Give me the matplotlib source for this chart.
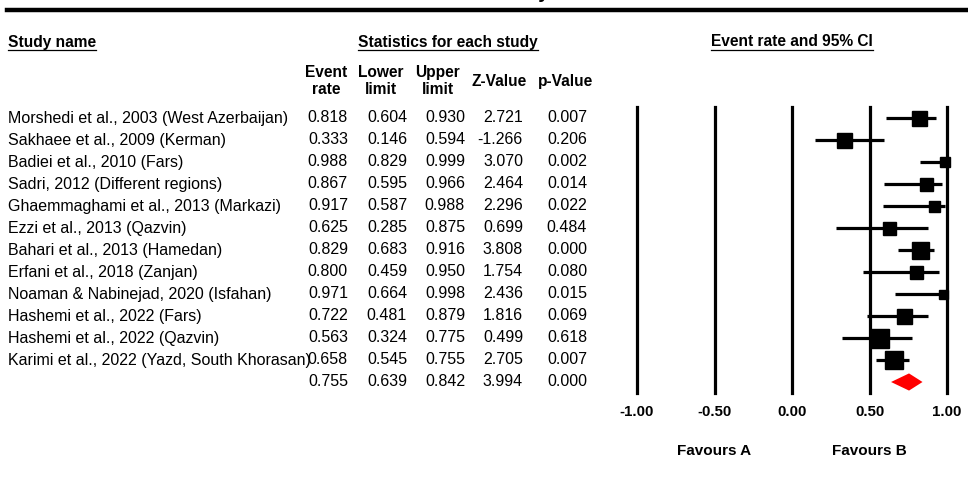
import matplotlib.pyplot as plt
from matplotlib.lines import Line2D
from matplotlib.patches import Polygon
import matplotlib.transforms as mtransforms

plt.rcParams['font.family'] = ['Liberation Sans', 'DejaVu Sans']

# study data
studies = [
    "Morshedi et al., 2003 (West Azerbaijan)",
    "Sakhaee et al., 2009 (Kerman)",
    "Badiei et al., 2010 (Fars)",
    "Sadri, 2012 (Different regions)",
    "Ghaemmaghami et al., 2013 (Markazi)",
    "Ezzi et al., 2013 (Qazvin)",
    "Bahari et al., 2013 (Hamedan)",
    "Erfani et al., 2018 (Zanjan)",
    "Noaman & Nabinejad, 2020 (Isfahan)",
    "Hashemi et al., 2022 (Fars)",
    "Hashemi et al., 2022 (Qazvin)",
    "Karimi et al., 2022 (Yazd, South Khorasan)",
]
event_rate = [0.818, 0.333, 0.988, 0.867, 0.917, 0.625, 0.829, 0.800, 0.971, 0.722, 0.563, 0.658]
lower = [0.604, 0.146, 0.829, 0.595, 0.587, 0.285, 0.683, 0.459, 0.664, 0.481, 0.324, 0.545]
upper = [0.930, 0.594, 0.999, 0.966, 0.988, 0.875, 0.916, 0.950, 0.998, 0.879, 0.775, 0.755]
z_value = [2.721, -1.266, 3.070, 2.464, 2.296, 0.699, 3.808, 1.754, 2.436, 1.816, 0.499, 2.705]
p_value = [0.007, 0.206, 0.002, 0.014, 0.022, 0.484, 0.000, 0.080, 0.015, 0.069, 0.618, 0.007]

# pooled estimate
pooled = [0.755, 0.639, 0.842, 3.994, 0.000]

# relative study weights (box side, px)
box_px = [15, 15, 10, 13, 11, 13, 17, 13, 9, 15, 19, 18]

ticks = [-1.0, -0.5, 0.0, 0.5, 1.0]

W, H = 968, 497
fig = plt.figure(figsize=(W / 100, H / 100), dpi=100)

def fx(px):
    return px / W

def fy(py):
    return 1 - py / H

# forest plot panel
ax = fig.add_axes([fx(637), fy(393), fx(947) - fx(637), fy(107) - fy(393)])
ax.set_xlim(-1, 1)
ax.set_ylim(12.5, -0.5)
for s in ax.spines.values():
    s.set_visible(False)
ax.set_yticks([])
ax.set_xticks(ticks)
ax.set_xticklabels([f"{t:.2f}" for t in ticks], fontsize=10.8, fontweight='bold')
ax.tick_params(axis='x', length=0, pad=9)

for t in ticks:
    ax.axvline(t, color='black', lw=2.3, zorder=1, clip_on=False)

rows = list(range(len(studies)))
for i in rows:
    ax.plot([lower[i], upper[i]], [i, i], color='black', lw=2.3, solid_capstyle='butt',
            zorder=2, clip_on=False)
    ax.plot(event_rate[i], i, marker='s', color='black', markersize=box_px[i] * 0.72,
            zorder=3, clip_on=False)

yp = len(studies)
h = 0.39
ax.add_patch(Polygon([(pooled[1], yp), (pooled[0], yp - h), (pooled[2], yp), (pooled[0], yp + h)],
                     closed=True, facecolor='#ff0000', edgecolor='none', zorder=4, clip_on=False))

ax.text(-0.5, 15.15, "Favours A", ha='center', va='center', fontsize=11, fontweight='bold')
ax.text(0.5, 15.15, "Favours B", ha='center', va='center', fontsize=11, fontweight='bold')

# table of statistics
trans = mtransforms.blended_transform_factory(fig.transFigure, ax.transData)
col_right = [348, 407, 465, 523, 587]
fs = 11.5
for i in rows:
    fig.text(fx(8), i, studies[i], transform=trans, ha='left', va='center', fontsize=fs)
    vals = [event_rate[i], lower[i], upper[i], z_value[i], p_value[i]]
    for x, v in zip(col_right, vals):
        fig.text(fx(x), i, f"{v:.3f}", transform=trans, ha='right', va='center', fontsize=fs)
for x, v in zip(col_right, pooled):
    fig.text(fx(x), yp, f"{v:.3f}", transform=trans, ha='right', va='center', fontsize=fs)

# column headers
hfs = 11.2
headers = [("Event\nrate", 326), ("Lower\nlimit", 381), ("Upper\nlimit", 438),
           ("Z-Value", 499), ("p-Value", 566)]
for label, x in headers:
    fig.text(fx(x), fy(81), label, ha='center', va='center', fontsize=hfs,
             fontweight='bold', linespacing=1.15)

# section titles with underline
sections = [("Study name", 8, 'left'), ("Statistics for each study", 448, 'center'),
            ("Event rate and 95% CI", 792, 'center')]
sec_texts = [fig.text(fx(x), fy(42), s, ha=ha, va='center', fontsize=hfs, fontweight='bold')
             for s, x, ha in sections]

# top rule and clipped title
fig.add_artist(Line2D([fx(7), 1], [fy(10), fy(10)], color='black', lw=3.2))
fig.text(fx(512), fy(-1.5), "Meta Analysis", ha='center', va='baseline', fontsize=14,
         fontweight='bold')

fig.canvas.draw()
renderer = fig.canvas.get_renderer()
for t in sec_texts:
    bb = t.get_window_extent(renderer)
    yl = fy(50)
    fig.add_artist(Line2D([bb.x0 / W, bb.x1 / W], [yl, yl], color='black', lw=0.9))

fig.savefig("out.png", dpi=100)
